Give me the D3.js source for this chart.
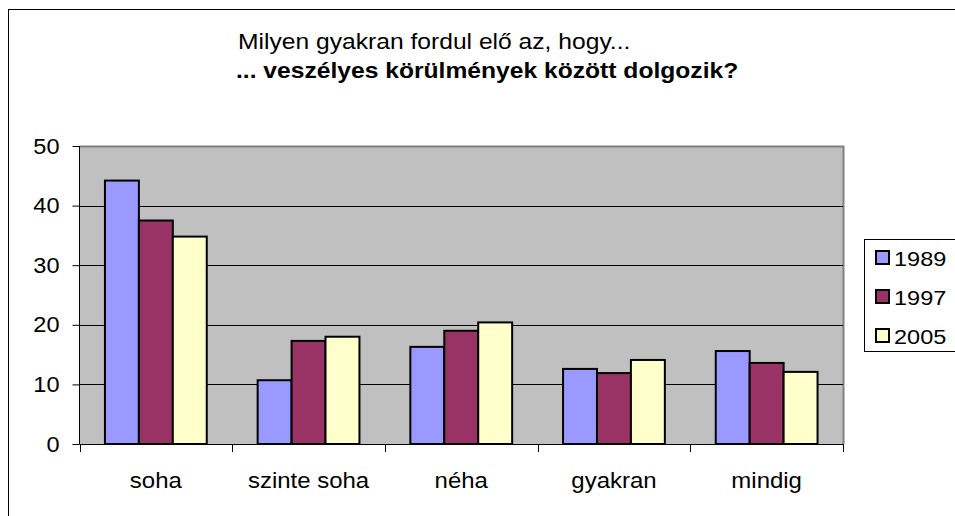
<!DOCTYPE html>
<html>
<head>
<meta charset="utf-8">
<script src="https://cdn.jsdelivr.net/npm/d3@7"></script>
<style>
  body { margin: 0; background: #fff; }
  text { font-family: "Liberation Sans", Arial, sans-serif; }
</style>
</head>
<body>
<svg id="chart" width="955" height="516"></svg>
<script>
var categories = ["soha", "szinte soha", "néha", "gyakran", "mindig"];
var seriesNames = ["1989", "1997", "2005"];
var values1989 = [44.2, 10.7, 16.3, 12.6, 15.6];
var values1997 = [37.5, 17.3, 19.0, 11.9, 13.6];
var values2005 = [34.8, 18.0, 20.4, 14.1, 12.1];
var yTicks = [0, 10, 20, 30, 40, 50];
var seriesColors = ["#9999FF", "#993366", "#FFFFCC"];

var allSeries = [values1989, values1997, values2005];
var fontFamily = "'Liberation Sans', Arial, sans-serif";

var svg = d3.select("#chart");

// the original picture's text is a bit wider than it is tall, stretch it sideways
function stretchText(sel, sx) {
    sel.each(function () {
        var t = d3.select(this);
        var x = +t.attr("x") || 0;
        t.attr("x", x / sx).attr("transform", "scale(" + sx + ",1)");
    });
}

function addText(x, y, str, size, sx, bold) {
    var g = svg.append("g").attr("transform", "translate(" + x + "," + y + ")");
    var t = g.append("text")
        .attr("transform", "scale(" + sx + ",1)")
        .style("font-size", size + "px")
        .style("font-family", fontFamily)
        .text(str);
    if (bold) t.style("font-weight", "bold");
    return t;
}

// outer chart border (runs off the right/bottom edge like the original)
svg.append("rect")
    .attr("x", 8.5).attr("y", 9.5)
    .attr("width", 960).attr("height", 520)
    .attr("fill", "none").attr("stroke", "#000").attr("stroke-width", 1);

var plotLeft = 79.5, plotRight = 843, plotTop = 146, plotBottom = 444;

var xScale = d3.scaleBand().domain(categories).range([plotLeft, plotRight]).paddingInner(0).paddingOuter(0);
var yScale = d3.scaleLinear().domain([0, 50]).range([plotBottom, plotTop]);

// plot background
svg.append("rect")
    .attr("x", plotLeft).attr("y", plotTop)
    .attr("width", plotRight - plotLeft).attr("height", plotBottom - plotTop)
    .attr("fill", "#C0C0C0");
svg.append("path")
    .attr("d", "M" + plotLeft + "," + (plotTop + 0.5) + "H" + (plotRight + 0.5) + "V" + plotBottom)
    .attr("fill", "none").attr("stroke", "#808080").attr("stroke-width", 2);

// gridlines
svg.selectAll("line.grid")
    .data(yTicks.filter(function (d) { return d > 0 && d < 50; }))
    .enter().append("line")
    .attr("class", "grid")
    .attr("x1", plotLeft).attr("x2", plotRight)
    .attr("y1", function (d) { return Math.round(yScale(d)) + 0.5; })
    .attr("y2", function (d) { return Math.round(yScale(d)) + 0.5; })
    .attr("stroke", "#000").attr("stroke-width", 1);

// bars: gap width 150% -> 4.5 bar widths per category
var barWidth = xScale.bandwidth() / 4.5;
categories.forEach(function (cat, ci) {
    allSeries.forEach(function (vals, si) {
        var x0 = xScale(cat) + 0.75 * barWidth + si * barWidth;
        svg.append("rect")
            .attr("x", x0)
            .attr("y", yScale(vals[ci]))
            .attr("width", barWidth)
            .attr("height", plotBottom - yScale(vals[ci]))
            .attr("fill", seriesColors[si])
            .attr("stroke", "#000")
            .attr("stroke-width", 2);
    });
});

// y axis
var yAxis = d3.axisLeft(yScale).tickValues(yTicks).tickSize(7).tickPadding(13);
var yG = svg.append("g").attr("transform", "translate(" + plotLeft + ",0)").call(yAxis);
yG.selectAll("text").style("font-size", "22px").attr("fill", "#000")
    .style("font-family", fontFamily);
stretchText(yG.selectAll("text"), 1.07);
yG.selectAll("line").attr("stroke", "#000");
yG.select(".domain").attr("stroke", "#000").attr("d", "M0," + plotTop + "V" + plotBottom);

// x axis
var xAxis = d3.axisBottom(xScale).tickSize(0).tickPadding(28);
var xG = svg.append("g").attr("transform", "translate(0," + plotBottom + ")").call(xAxis);
xG.selectAll("text").style("font-size", "22px").attr("fill", "#000")
    .style("font-family", fontFamily);
stretchText(xG.selectAll("text"), 1.09);
xG.select(".domain").attr("stroke", "#000").attr("d", "M" + plotLeft + ",0.5H" + (plotRight + 0.5));
// tick marks at category boundaries
var boundaries = categories.map(function (c) { return xScale(c); }).concat([plotRight]);
xG.selectAll("line.bound")
    .data(boundaries).enter().append("line")
    .attr("class", "bound")
    .attr("x1", function (d) { return Math.round(d) + 0.5; })
    .attr("x2", function (d) { return Math.round(d) + 0.5; })
    .attr("y1", 0).attr("y2", 8)
    .attr("stroke", "#000");

// title
addText(238, 49, "Milyen gyakran fordul elő az, hogy...", 22, 1.12, false);
addText(236, 78, "... veszélyes körülmények között dolgozik?", 22, 1.12, true);

// legend
var legend = svg.append("g");
legend.append("rect")
    .attr("x", 864.5).attr("y", 239.5).attr("width", 100).attr("height", 112)
    .attr("fill", "#fff").attr("stroke", "#000").attr("stroke-width", 1);
seriesNames.forEach(function (name, i) {
    var cy = 258 + i * 39;
    legend.append("rect")
        .attr("x", 876).attr("y", cy - 7)
        .attr("width", 13).attr("height", 13)
        .attr("fill", seriesColors[i]).attr("stroke", "#000").attr("stroke-width", 2);
    addText(894, cy + 8, name, 21, 1.12, false);
});
</script>
</body>
</html>
